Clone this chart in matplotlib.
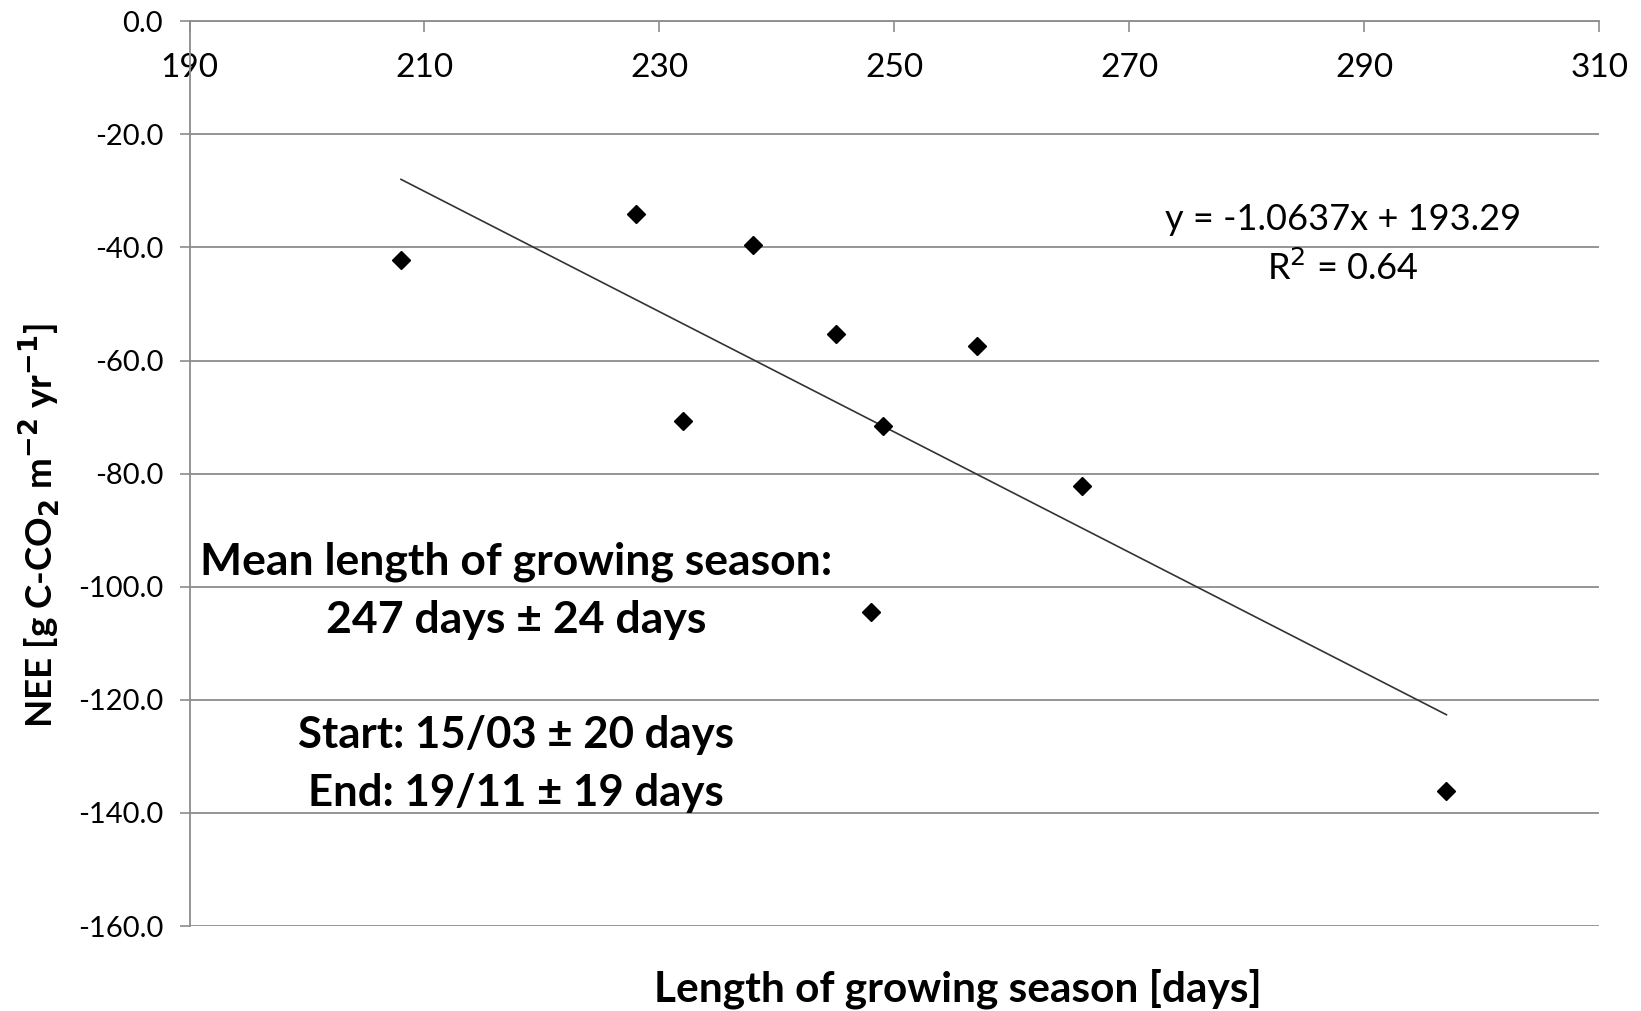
import numpy as np
import matplotlib
matplotlib.use("Agg")
import matplotlib.pyplot as plt

plt.rcParams["font.family"] = ["Lato", "DejaVu Sans"]

# growing season length [days] and annual NEE [g C-CO2 m-2 yr-1]
season_days = [208, 228, 232, 238, 245, 248, 249, 257, 266, 297]
nee_values = [-42.2, -34.0, -70.7, -39.6, -55.3, -104.5, -71.6, -57.5, -82.1, -136.1]

# linear trend as printed on the chart
slope = -1.0637
intercept = 193.29
r_squared = 0.64

x_ticks = [190, 210, 230, 250, 270, 290, 310]
y_ticks = [0, -20, -40, -60, -80, -100, -120, -140, -160]

grid_col = "#8c8c8c"

fig = plt.figure(figsize=(16.41, 10.11), dpi=100)
ax = fig.add_axes([0.1155, 0.084, 0.859, 0.895])

ax.set_xlim(190, 310)
ax.set_ylim(-160, 0)

# horizontal gridlines
for yv in y_ticks:
    ax.axhline(yv, color=grid_col, lw=1.3, zorder=1)

# trend line over the data range
xs = np.array([min(season_days), max(season_days)])
ax.plot(xs, slope * xs + intercept, color="#333333", lw=1.2, zorder=2)

ax.plot(season_days, nee_values, linestyle="none", marker="D",
        markersize=9, color="black", zorder=3)

# axes styling
for s in ["right", "bottom"]:
    ax.spines[s].set_visible(False)
for s in ["top", "left"]:
    ax.spines[s].set_color(grid_col)
    ax.spines[s].set_linewidth(1.3)

ax.xaxis.set_ticks_position("top")
ax.set_xticks(x_ticks)
ax.set_xticklabels([str(v) for v in x_ticks])
ax.tick_params(axis="x", direction="in", length=8, width=1.2, color=grid_col,
               labelsize=24, pad=-23)
for lbl in ax.get_xticklabels():
    lbl.set_verticalalignment("top")

ax.set_yticks(y_ticks)
ax.set_yticklabels([f"{v:.1f}" for v in y_ticks])
ax.tick_params(axis="y", direction="out", length=7, width=1.2, color=grid_col,
               labelsize=21, pad=12)

# regression text
ax.text(288.2, -35.0, f"y = {slope}x + {intercept}", fontsize=26,
        ha="center", va="center")
ax.text(288.2, -43.7, f"R$^2$ = {r_squared:.2f}", fontsize=26,
        ha="center", va="center")

# season statistics
ax.text(217.8, -95.6, "Mean length of growing season:", fontsize=32,
        fontweight="bold", ha="center", va="center")
ax.text(217.8, -105.8, "247 days ± 24 days", fontsize=32,
        fontweight="bold", ha="center", va="center")
ax.text(217.8, -126.2, "Start: 15/03 ± 20 days", fontsize=31.5,
        fontweight="bold", ha="center", va="center")
ax.text(217.8, -136.4, "End: 19/11 ± 19 days", fontsize=31.5,
        fontweight="bold", ha="center", va="center")

fig.text(0.584, 0.022, "Length of growing season [days]", fontsize=30.5,
         fontweight="bold", ha="center", va="center")
fig.text(0.024, 0.48, r"NEE [g C-CO$_\mathbf{2}$ m$^\mathbf{-2}$ yr$^\mathbf{-1}$]",
         fontsize=26.5, fontweight="bold", rotation=90, ha="center", va="center")

fig.savefig("out.png", dpi=100)
